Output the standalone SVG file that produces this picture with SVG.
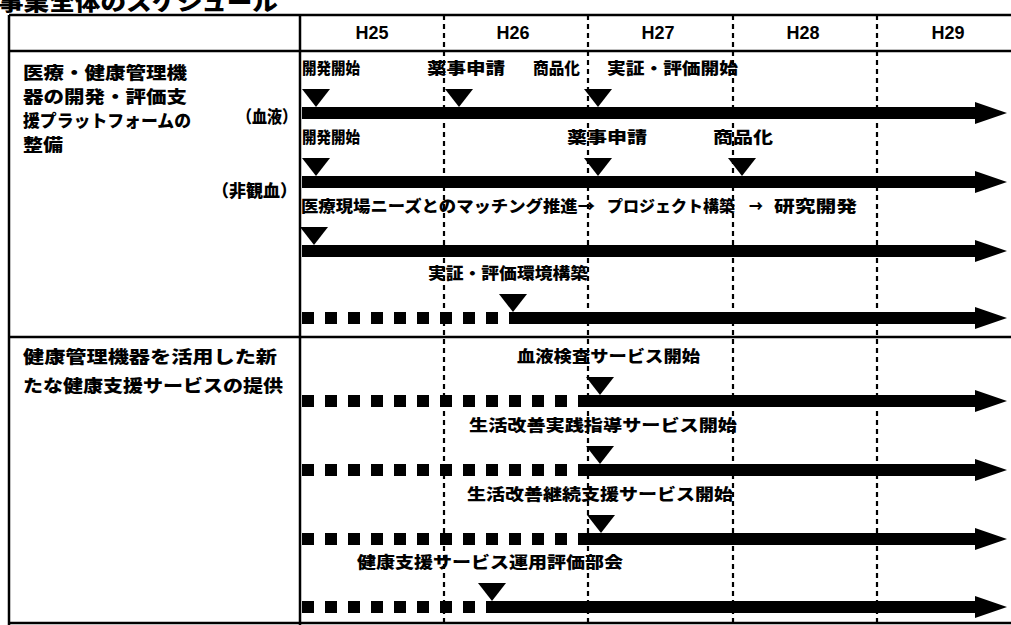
<svg xmlns="http://www.w3.org/2000/svg" width="1011" height="625" viewBox="0 0 1011 625">
<style>
.t{font-family:"Noto Sans CJK JP","Noto Sans CJK SC",sans-serif;font-weight:900;fill:#000}
.lbl{font-size:16px}
.side{font-size:17px}
.hd{font-family:"Liberation Sans",Arial,sans-serif;font-weight:700;font-size:18px;text-anchor:middle;fill:#000}
.grid{stroke:#000;stroke-width:2.5;fill:none}
.dash{stroke:#000;stroke-width:2.2;stroke-dasharray:5 4;fill:none}
.bar{fill:#000}
.dots{stroke:#000;stroke-width:12;stroke-dasharray:12 11;fill:none}
.tri{fill:#000}
</style>
<rect width="1011" height="625" fill="#fff"/>
<text class="t" x="-2" y="10" font-size="22" textLength="280" lengthAdjust="spacingAndGlyphs">事業全体のスケジュール</text>
<g id="table">
  <line class="grid" x1="9" y1="15" x2="1011" y2="15"/>
  <line class="grid" x1="9" y1="51" x2="1011" y2="51"/>
  <line class="grid" x1="9" y1="337" x2="1011" y2="337"/>
  <line class="grid" x1="9" y1="623" x2="1011" y2="623"/>
  <line class="grid" x1="9" y1="15" x2="9" y2="625"/>
  <line class="grid" x1="300" y1="15" x2="300" y2="625"/>
  <line class="dash" x1="444" y1="15" x2="444" y2="625"/>
  <line class="dash" x1="588" y1="15" x2="588" y2="625"/>
  <line class="dash" x1="733" y1="15" x2="733" y2="625"/>
  <line class="dash" x1="877" y1="15" x2="877" y2="625"/>
</g>
<g id="header">
  <text class="hd" x="372" y="39">H25</text>
  <text class="hd" x="513" y="39">H26</text>
  <text class="hd" x="658" y="39">H27</text>
  <text class="hd" x="803" y="39">H28</text>
  <text class="hd" x="948" y="39">H29</text>
</g>
<g id="section1">
  <text class="t side" x="23" y="79" textLength="164" lengthAdjust="spacingAndGlyphs">医療・健康管理機</text>
  <text class="t side" x="23" y="103" textLength="164" lengthAdjust="spacingAndGlyphs">器の開発・評価支</text>
  <text class="t side" x="23" y="127" textLength="168" lengthAdjust="spacingAndGlyphs">援プラットフォームの</text>
  <text class="t side" x="23" y="151" textLength="40" lengthAdjust="spacingAndGlyphs">整備</text>
  <text class="t side" x="237" y="123" textLength="60" lengthAdjust="spacingAndGlyphs">（血液）</text>
  <text class="t side" x="212" y="197" textLength="85" lengthAdjust="spacingAndGlyphs">（非観血）</text>
</g>
<g id="section2">
  <text class="t side" x="23" y="363" textLength="254" lengthAdjust="spacingAndGlyphs">健康管理機器を活用した新</text>
  <text class="t side" x="23" y="392" textLength="260" lengthAdjust="spacingAndGlyphs">たな健康支援サービスの提供</text>
</g>
<g id="connectors">
  <path class="bar" d="M302,107 H975 V102 L1007,113 L975,124 V119 H302 Z"/>
  <path class="bar" d="M302,176 H975 V171 L1007,182 L975,193 V188 H302 Z"/>
  <path class="bar" d="M302,245 H975 V240 L1007,251 L975,262 V257 H302 Z"/>
  <line class="dots" x1="302" y1="318" x2="498" y2="318"/>
  <path class="bar" d="M509,312 H975 V307 L1007,318 L975,329 V324 H509 Z"/>
  <line class="dots" x1="302" y1="401" x2="567" y2="401"/>
  <path class="bar" d="M578,395 H975 V390 L1007,401 L975,412 V407 H578 Z"/>
  <line class="dots" x1="302" y1="470" x2="567" y2="470"/>
  <path class="bar" d="M578,464 H975 V459 L1007,470 L975,481 V476 H578 Z"/>
  <line class="dots" x1="302" y1="539" x2="567" y2="539"/>
  <path class="bar" d="M578,533 H975 V528 L1007,539 L975,550 V545 H578 Z"/>
  <line class="dots" x1="302" y1="607" x2="475" y2="607"/>
  <path class="bar" d="M486,601 H975 V596 L1007,607 L975,618 V613 H486 Z"/>
</g>
<g id="row1">
  <text class="t lbl" x="302" y="74" textLength="58" lengthAdjust="spacingAndGlyphs">開発開始</text>
  <text class="t lbl" x="427" y="74" textLength="78" lengthAdjust="spacingAndGlyphs">薬事申請</text>
  <text class="t lbl" x="533" y="74" textLength="47" lengthAdjust="spacingAndGlyphs">商品化</text>
  <text class="t lbl" x="607" y="74" textLength="131" lengthAdjust="spacingAndGlyphs">実証・評価開始</text>
  <polygon class="tri" points="302,89 330,89 316,107"/>
  <polygon class="tri" points="445,89 473,89 459,107"/>
  <polygon class="tri" points="584,89 612,89 598,107"/>
</g>
<g id="row2">
  <text class="t lbl" x="302" y="143" textLength="58" lengthAdjust="spacingAndGlyphs">開発開始</text>
  <text class="t lbl" x="567" y="143" textLength="80" lengthAdjust="spacingAndGlyphs">薬事申請</text>
  <text class="t lbl" x="713" y="143" textLength="60" lengthAdjust="spacingAndGlyphs">商品化</text>
  <polygon class="tri" points="302,158 330,158 316,176"/>
  <polygon class="tri" points="584,158 612,158 598,176"/>
  <polygon class="tri" points="728,158 756,158 742,176"/>
</g>
<g id="row3">
  <text class="t lbl" x="301" y="212" textLength="294" lengthAdjust="spacingAndGlyphs">医療現場ニーズとのマッチング推進→</text>
  <text class="t lbl" x="607" y="212" textLength="128" lengthAdjust="spacingAndGlyphs">プロジェクト構築</text>
  <text class="t lbl" x="749" y="212" textLength="14" lengthAdjust="spacingAndGlyphs">→</text>
  <text class="t lbl" x="774" y="212" textLength="83" lengthAdjust="spacingAndGlyphs">研究開発</text>
  <polygon class="tri" points="300,227 328,227 314,245"/>
</g>
<g id="row4">
  <text class="t lbl" x="428" y="279" textLength="160" lengthAdjust="spacingAndGlyphs">実証・評価環境構築</text>
  <polygon class="tri" points="499,294 527,294 513,312"/>
</g>
<g id="row5">
  <text class="t lbl" x="517" y="362" textLength="183" lengthAdjust="spacingAndGlyphs">血液検査サービス開始</text>
  <polygon class="tri" points="586,377 614,377 600,395"/>
</g>
<g id="row6">
  <text class="t lbl" x="469" y="431" textLength="268" lengthAdjust="spacingAndGlyphs">生活改善実践指導サービス開始</text>
  <polygon class="tri" points="586,446 614,446 600,464"/>
</g>
<g id="row7">
  <text class="t lbl" x="467" y="500" textLength="266" lengthAdjust="spacingAndGlyphs">生活改善継続支援サービス開始</text>
  <polygon class="tri" points="587,515 615,515 601,533"/>
</g>
<g id="row8">
  <text class="t lbl" x="357" y="568" textLength="266" lengthAdjust="spacingAndGlyphs">健康支援サービス運用評価部会</text>
  <polygon class="tri" points="478,583 506,583 492,601"/>
</g>
</svg>
